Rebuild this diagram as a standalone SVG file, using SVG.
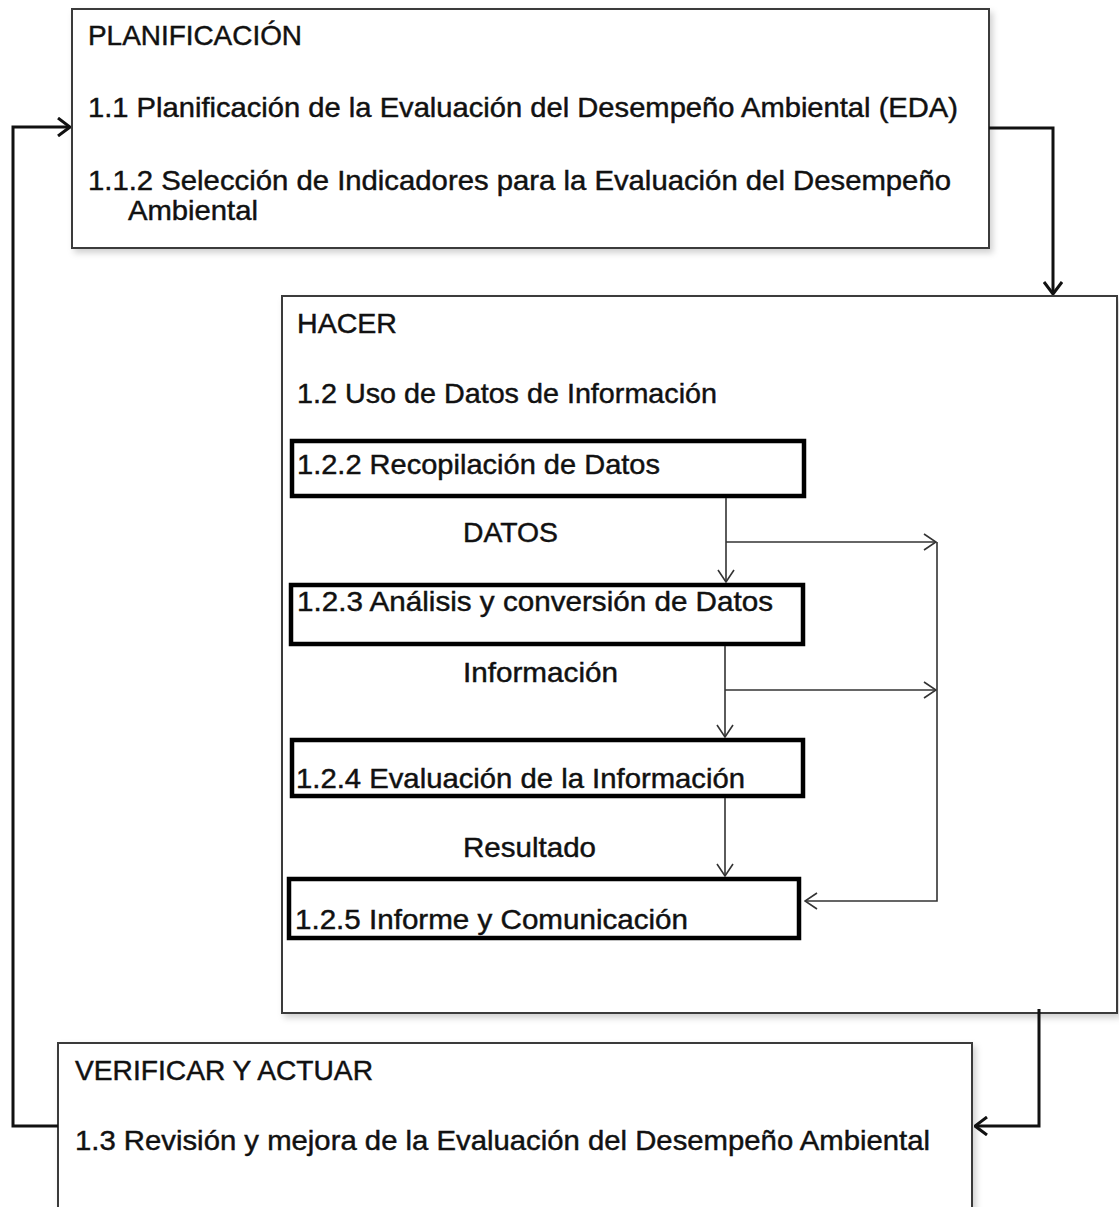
<svg xmlns="http://www.w3.org/2000/svg" width="1119" height="1207" viewBox="0 0 1119 1207">
  <style>
    .t { font-family: "Liberation Sans", Arial, sans-serif; font-size: 28px; fill: #111; stroke: #111; stroke-width: 0.45; }
    .outer { fill: #fff; stroke: #3a3a3a; stroke-width: 2; }
    .inner { fill: #fff; stroke: #000; stroke-width: 4.5; }
    .main { fill: none; stroke: #111; stroke-width: 3; }
    .thin { fill: none; stroke: #333; stroke-width: 1.6; }
  </style>
  <defs>
    <filter id="sh" x="-5%" y="-5%" width="110%" height="110%">
      <feDropShadow dx="3" dy="4" stdDeviation="3" flood-color="#000" flood-opacity="0.18"/>
    </filter>
    <marker id="amain" viewBox="0 0 14 20" refX="13" refY="10" markerWidth="14" markerHeight="20" markerUnits="userSpaceOnUse" orient="auto">
      <path d="M1,1 L13,10 L1,19" fill="none" stroke="#111" stroke-width="3"/>
    </marker>
    <marker id="athin" viewBox="0 0 14 18" refX="13" refY="9" markerWidth="14" markerHeight="18" markerUnits="userSpaceOnUse" orient="auto">
      <path d="M1,1 L13,9 L1,17" fill="none" stroke="#333" stroke-width="1.6"/>
    </marker>
  </defs>
  <rect width="1119" height="1207" fill="#fff"/>

  <g id="planificacion">
    <rect class="outer" x="72" y="9" width="917" height="239" filter="url(#sh)"/>
    <text class="t" x="88" y="45" textLength="214" lengthAdjust="spacingAndGlyphs">PLANIFICACIÓN</text>
    <text class="t" x="88" y="117" textLength="870" lengthAdjust="spacingAndGlyphs">1.1 Planificación de la Evaluación del Desempeño Ambiental (EDA)</text>
    <text class="t" x="88" y="190" textLength="863" lengthAdjust="spacingAndGlyphs">1.1.2 Selección de Indicadores para la Evaluación del Desempeño</text>
    <text class="t" x="128" y="220" textLength="130" lengthAdjust="spacingAndGlyphs">Ambiental</text>
  </g>

  <g id="hacer">
    <rect class="outer" x="282" y="296" width="835" height="717" filter="url(#sh)"/>
    <text class="t" x="297" y="333" textLength="100" lengthAdjust="spacingAndGlyphs">HACER</text>
    <text class="t" x="297" y="403" textLength="420" lengthAdjust="spacingAndGlyphs">1.2 Uso de Datos de Información</text>
  </g>

  <g id="recopilacion">
    <rect class="inner" x="292" y="441" width="512" height="55"/>
    <text class="t" x="297" y="474" textLength="363" lengthAdjust="spacingAndGlyphs">1.2.2 Recopilación de Datos</text>
  </g>

  <g id="analisis">
    <rect class="inner" x="291" y="585" width="512" height="59"/>
    <text class="t" x="297" y="611" textLength="476" lengthAdjust="spacingAndGlyphs">1.2.3 Análisis y conversión de Datos</text>
  </g>

  <g id="evaluacion">
    <rect class="inner" x="292" y="740" width="511" height="56"/>
    <text class="t" x="296" y="788" textLength="449" lengthAdjust="spacingAndGlyphs">1.2.4 Evaluación de la Información</text>
  </g>

  <g id="informe">
    <rect class="inner" x="289" y="879" width="510" height="59"/>
    <text class="t" x="295" y="929" textLength="393" lengthAdjust="spacingAndGlyphs">1.2.5 Informe y Comunicación</text>
  </g>

  <g id="verificar">
    <rect class="outer" x="58" y="1043" width="914" height="190" filter="url(#sh)"/>
    <text class="t" x="75" y="1080" textLength="298" lengthAdjust="spacingAndGlyphs">VERIFICAR Y ACTUAR</text>
    <text class="t" x="75" y="1150" textLength="855" lengthAdjust="spacingAndGlyphs">1.3 Revisión y mejora de la Evaluación del Desempeño Ambiental</text>
  </g>

  <g id="labels">
    <text class="t" x="463" y="542" textLength="95" lengthAdjust="spacingAndGlyphs">DATOS</text>
    <text class="t" x="463" y="682" textLength="155" lengthAdjust="spacingAndGlyphs">Información</text>
    <text class="t" x="463" y="857" textLength="133" lengthAdjust="spacingAndGlyphs">Resultado</text>
  </g>

  <g id="connectors">
    <path class="main" d="M989,128 H1053 V294" marker-end="url(#amain)"/>
    <path class="main" d="M1039,1009 V1126 H975" marker-end="url(#amain)"/>
    <path class="main" d="M58,1126 H13 V127 H70" marker-end="url(#amain)"/>

    <path class="thin" d="M726,498 V582" marker-end="url(#athin)"/>
    <path class="thin" d="M726,542 H936" marker-end="url(#athin)"/>
    <path class="thin" d="M725,646 V737" marker-end="url(#athin)"/>
    <path class="thin" d="M725,690 H936" marker-end="url(#athin)"/>
    <path class="thin" d="M725,798 V876" marker-end="url(#athin)"/>
    <path class="thin" d="M937,542 V901 H805" marker-end="url(#athin)"/>
  </g>
</svg>
